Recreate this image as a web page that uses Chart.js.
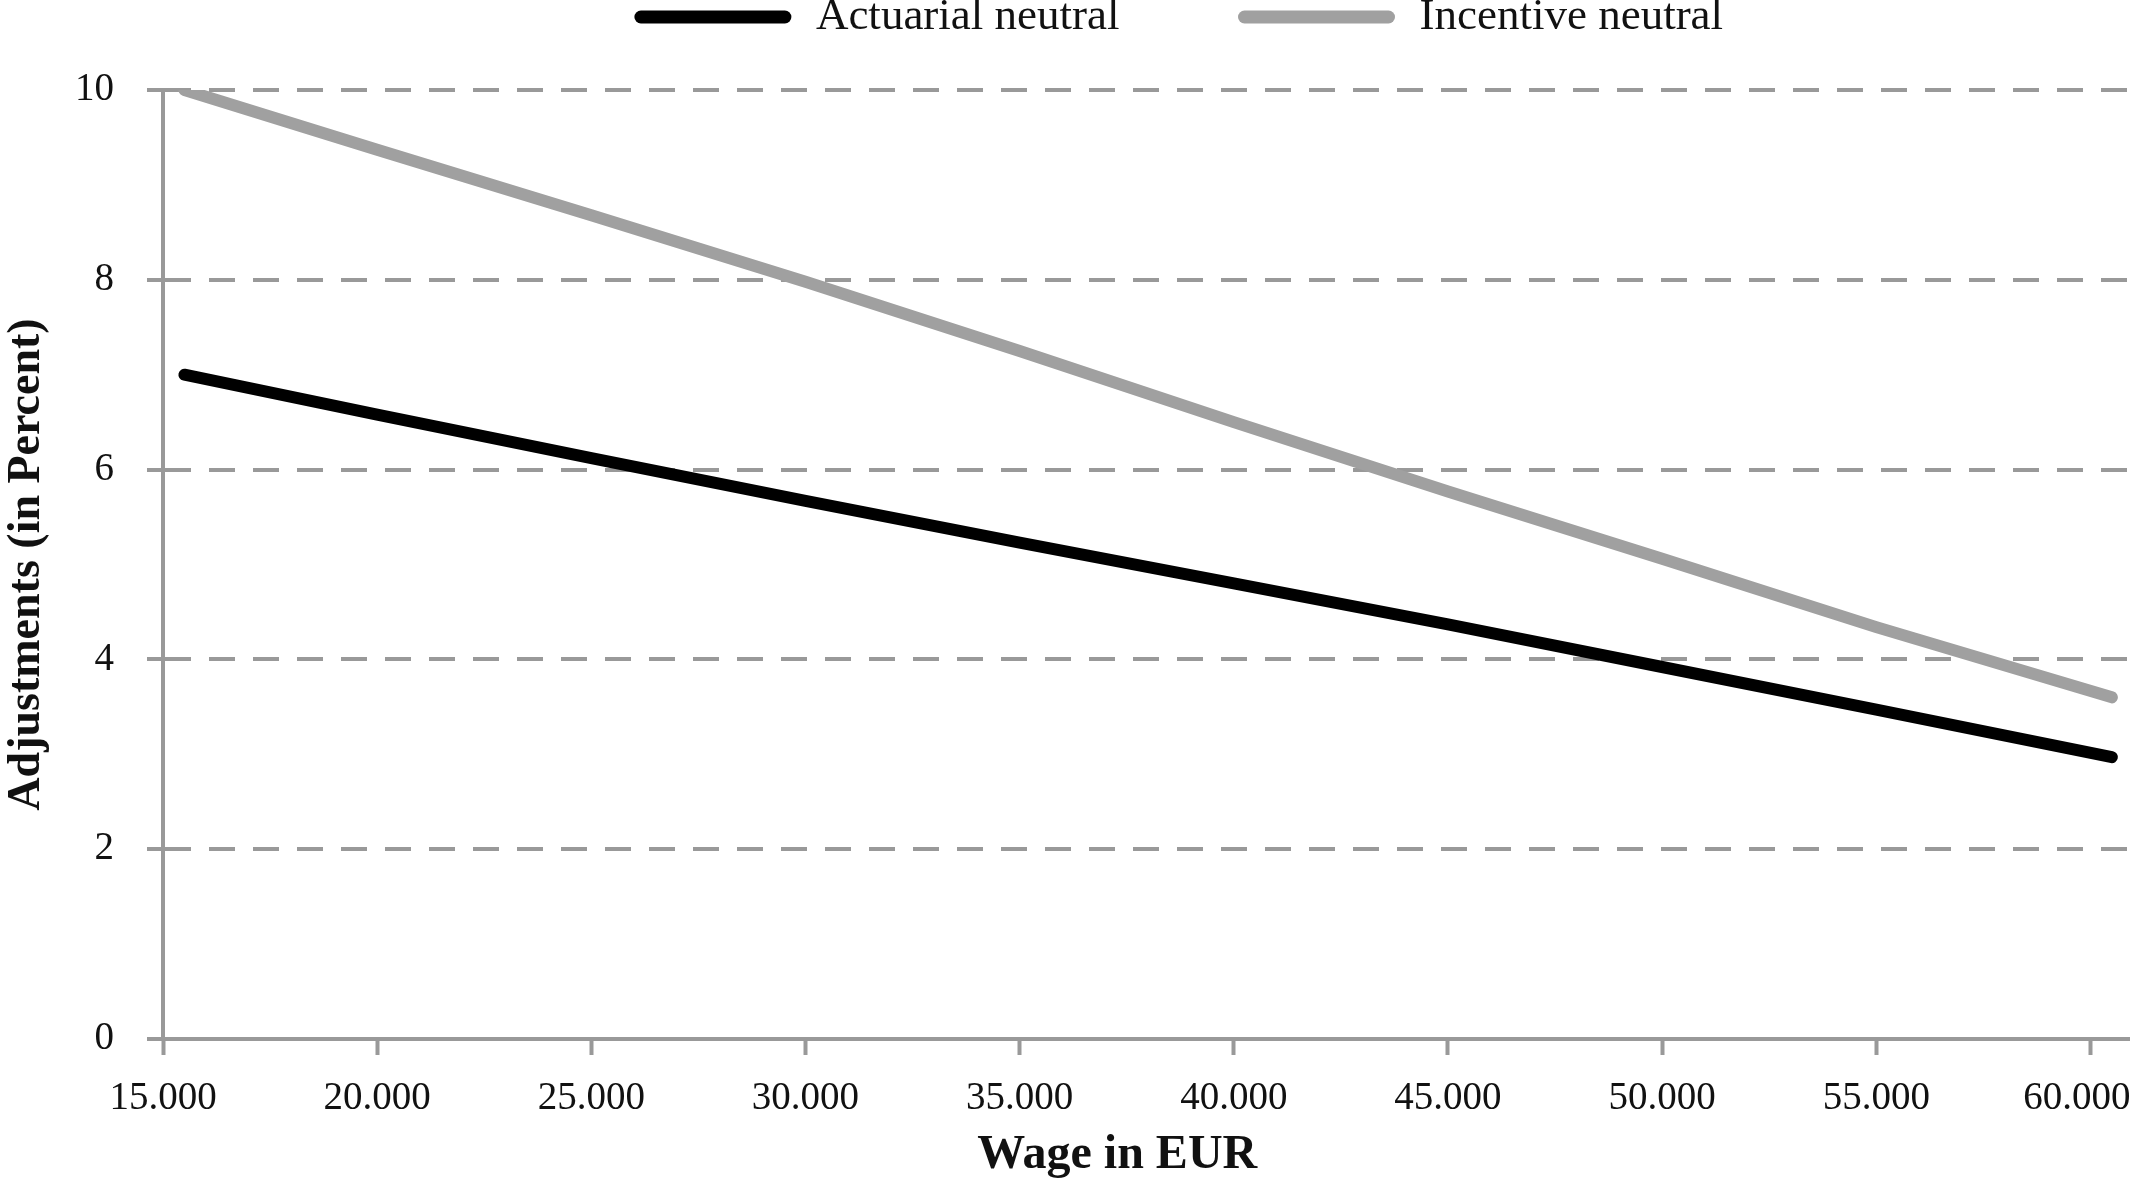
<!DOCTYPE html>
<html lang="en">
<head>
  <meta charset="UTF-8">
  <title>Adjustments by Wage</title>
  <script src="https://cdn.jsdelivr.net/npm/chart.js"></script>
  <style>
    body {
      margin: 0;
      background-color: #ffffff;
    }
    #chart-container {
      width: 2133px;
      height: 1180px;
    }
  </style>
</head>
<body>
<div id="chart-container">
  <canvas id="adjChart"></canvas>
</div>

<script>
  // wage in EUR
  const wages = [15500, 20000, 25000, 30000, 35000, 40000, 45000, 50000, 55000, 60500];
  // adjustments in percent
  const actuarialNeutral = [7.0, 6.58, 6.12, 5.67, 5.23, 4.8, 4.37, 3.92, 3.47, 2.97];
  const incentiveNeutral = [10.0, 9.37, 8.68, 7.98, 7.25, 6.5, 5.77, 5.06, 4.34, 3.6];
  const xTicks = [15000, 20000, 25000, 30000, 35000, 40000, 45000, 50000, 55000, 60000];
  const yTicks = [0, 2, 4, 6, 8, 10];

  const serif = '"Liberation Serif", "Times New Roman", serif';
  const axisGrey = '#999999';

  function toPoints(values) {
    return wages.map((w, i) => ({ x: w, y: values[i] }));
  }

  // legend drawn on top, line sample + label
  const topLegend = {
    id: 'topLegend',
    afterDraw(chart) {
      const ctx = chart.ctx;
      ctx.save();
      ctx.font = '45px ' + serif;
      const sample = 156, gapText = 25, gapItem = 119;
      const items = chart.data.datasets.map(ds => ({
        label: ds.label,
        color: ds.borderColor,
        w: ctx.measureText(ds.label).width
      }));
      const total = items.reduce((s, it) => s + sample + gapText + it.w, 0) + gapItem * (items.length - 1);
      let x = (chart.chartArea.left + chart.chartArea.right) / 2 + 33 - total / 2;
      const y = 17;
      items.forEach(it => {
        ctx.strokeStyle = it.color;
        ctx.lineWidth = 13;
        ctx.lineCap = 'round';
        ctx.beginPath();
        ctx.moveTo(x + 6, y);
        ctx.lineTo(x + sample - 6, y);
        ctx.stroke();
        ctx.fillStyle = '#111';
        ctx.textBaseline = 'middle';
        ctx.textAlign = 'left';
        ctx.fillText(it.label, x + sample + gapText, y);
        x += sample + gapText + it.w + gapItem;
      });
      ctx.restore();
    }
  };

  const ctx = document.getElementById('adjChart').getContext('2d');
  new Chart(ctx, {
    type: 'line',
    data: {
      datasets: [
        {
          label: 'Actuarial neutral',
          data: toPoints(actuarialNeutral),
          borderColor: '#000000',
          borderWidth: 12,
          borderCapStyle: 'round',
          pointRadius: 0,
          tension: 0
        },
        {
          label: 'Incentive neutral',
          data: toPoints(incentiveNeutral),
          borderColor: '#a0a0a0',
          borderWidth: 12,
          borderCapStyle: 'round',
          pointRadius: 0,
          tension: 0
        }
      ]
    },
    options: {
      responsive: true,
      maintainAspectRatio: false,
      animation: false,
      layout: {
        autoPadding: false,
        padding: { top: 90, right: 4, left: 0, bottom: 0 }
      },
      plugins: {
        legend: { display: false },
        tooltip: { enabled: false }
      },
      scales: {
        x: {
          type: 'linear',
          min: 15000,
          max: 60900,
          afterBuildTicks: scale => {
            scale.ticks = xTicks.map(v => ({ value: v }));
          },
          afterFit: scale => {
            scale.height = 141;
            // let the last label run to the canvas edge
            scale.paddingLeft = 0;
            scale.paddingRight = 0;
          },
          ticks: {
            color: '#111',
            font: { family: serif, size: 39 },
            padding: 20,
            maxRotation: 0,
            autoSkip: false,
            // last label nudged left so it stays inside the canvas
            callback: v => v.toLocaleString('de-DE') + (v === 60000 ? '\u2002\u2009' : '')
          },
          grid: {
            drawOnChartArea: false,
            drawTicks: true,
            tickLength: 16,
            tickWidth: 4,
            tickColor: axisGrey
          },
          border: { color: axisGrey, width: 4 },
          title: {
            display: true,
            text: 'Wage in EUR\u2003\u2009',
            color: '#111',
            font: { family: serif, size: 48, weight: 'bold', lineHeight: 1.0 },
            padding: { top: 0, bottom: 0 }
          }
        },
        y: {
          min: 0,
          max: 10,
          afterBuildTicks: scale => {
            scale.ticks = yTicks.map(v => ({ value: v }));
          },
          afterFit: scale => { scale.width = 163; },
          ticks: {
            color: '#111',
            font: { family: serif, size: 39 },
            padding: 33
          },
          grid: {
            color: ctx => ctx.tick && ctx.tick.value === 0 ? 'rgba(0,0,0,0)' : axisGrey,
            lineWidth: 4,
            drawTicks: true,
            tickLength: 16,
            tickWidth: 4,
            tickColor: axisGrey
          },
          border: {
            color: axisGrey,
            width: 4,
            dash: ctx => ctx.tick && ctx.tick.value !== 0 ? [26, 18] : []
          },
          title: {
            display: true,
            text: 'Adjustments (in Percent)',
            color: '#111',
            font: { family: serif, size: 46, weight: 'bold' },
            padding: { top: 0, bottom: 0 }
          }
        }
      }
    },
    plugins: [topLegend]
  });
</script>
</body>
</html>
